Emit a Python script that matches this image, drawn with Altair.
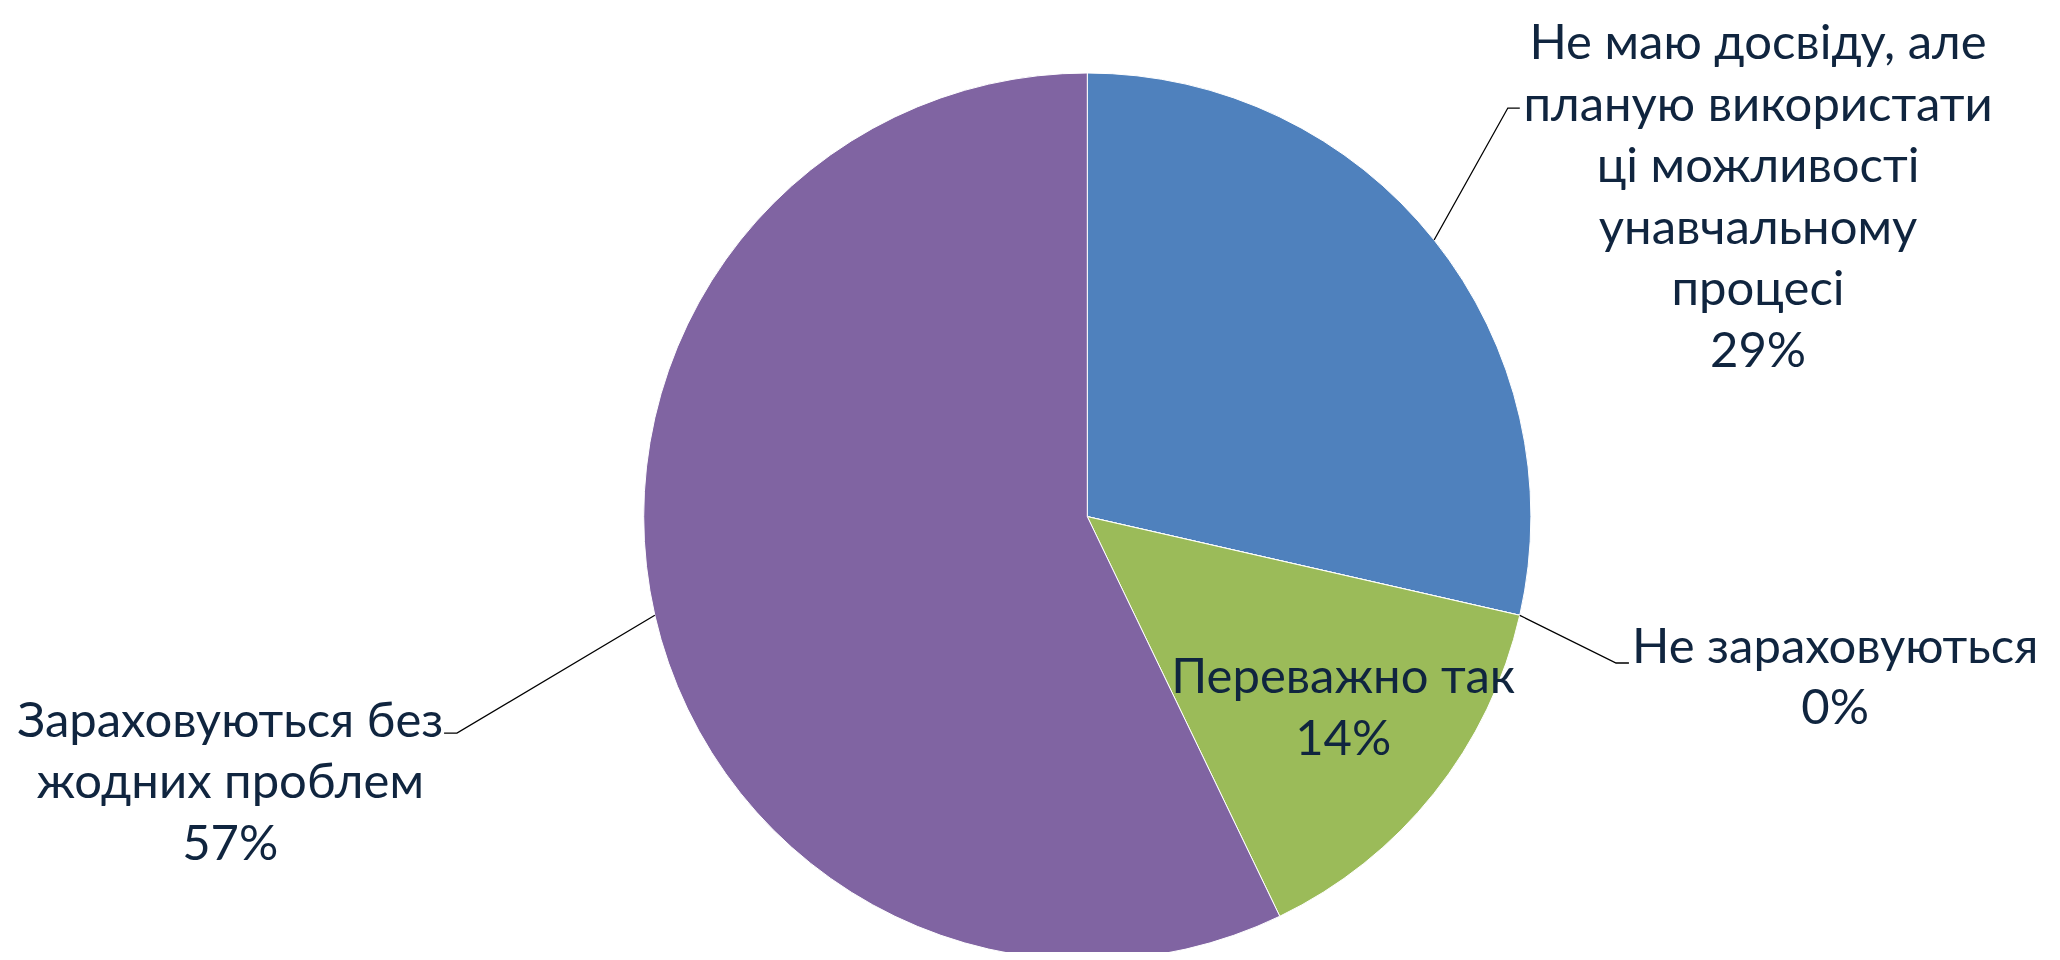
import math
import altair as alt
import pandas as pd

# ---------------- data ----------------
categories = [
    "Не маю досвіду, але планую використати ці можливості унавчальному процесі",
    "Не зараховуються",
    "Переважно так",
    "Зараховуються без жодних проблем",
]
# counts behind the shown 29% / 0% / 14% / 57%
values = [2, 0, 1, 4]
label_lines = [
    ["Не маю досвіду, але", "планую використати", "ці можливості", "унавчальному", "процесі"],
    ["Не зараховуються"],
    ["Переважно так"],
    ["Зараховуються без", "жодних проблем"],
]
colors = ["#4F81BD", "#C0504D", "#9BBB59", "#8064A2"]

# ---------------- layout (pie units: centre = 0,0 ; radius = 1) ----------------
PAD_TOP = 10
W, H = 2044, 944 - PAD_TOP
R_PX = 443.6
CX_PX, CY_PX = 1079.3, 508.6 - PAD_TOP     # pie centre inside the view
X0, X1 = -CX_PX / R_PX, (W - CX_PX) / R_PX
Y0, Y1 = -(H - CY_PX) / R_PX, CY_PX / R_PX

label_pos = {            # centre of the first line of each label
    categories[0]: (1.512, 1.065),
    categories[1]: (1.686, -0.296),
    categories[2]: (0.577, -0.364),
    categories[3]: (-1.932, -0.463),
}
leader_pts = {           # elbow and end of each leader line (None = no leader)
    categories[0]: [(0.948, 0.921), (0.975, 0.921)],
    categories[1]: [(1.192, -0.330), (1.221, -0.330)],
    categories[2]: None,
    categories[3]: [(-1.421, -0.488), (-1.450, -0.488)],
}
FONT = "Lato"
FS = 49
LH = 61.5                # line spacing in px
TXT = "#10253F"

# ---------------- tables ----------------
total = sum(values)
pie_df = pd.DataFrame({"category": categories, "value": values, "idx": range(len(categories))})

label_rows, leader_rows = [], []
cum = 0
for cat, v, lines in zip(categories, values, label_lines):
    mid = (cum + v / 2) / total * 2 * math.pi
    cum += v
    pct = f"{round(v / total * 100)}%"
    lx, ly = label_pos[cat]
    for i, line in enumerate(lines + [pct]):
        label_rows.append({"category": cat, "text": line, "lx": lx, "ly": ly - i * LH / R_PX})
    pts = leader_pts[cat]
    if pts:
        seq = [(math.sin(mid), math.cos(mid))] + pts
        for k, (px, py) in enumerate(seq):
            leader_rows.append({"category": cat, "k": k, "px": px, "py": py})

label_df = pd.DataFrame(label_rows)
leader_df = pd.DataFrame(leader_rows)

xs = alt.Scale(domain=[X0, X1], nice=False, zero=False)
ys = alt.Scale(domain=[Y0, Y1], nice=False, zero=False)

pie = alt.Chart(pie_df).mark_arc(radius=R_PX, stroke="white", strokeWidth=1).encode(
    x=alt.X(datum=0, type="quantitative", scale=xs, axis=None),
    y=alt.Y(datum=0, type="quantitative", scale=ys, axis=None),
    theta=alt.Theta("value:Q", stack=True),
    order=alt.Order("idx:Q"),
    color=alt.Color("category:N", scale=alt.Scale(domain=categories, range=colors), legend=None),
)

leaders = alt.Chart(leader_df).mark_line(color="#000000", strokeWidth=1.3).encode(
    x=alt.X("px:Q", scale=xs, axis=None),
    y=alt.Y("py:Q", scale=ys, axis=None),
    detail="category:N",
    order="k:Q",
)

labels = alt.Chart(label_df).mark_text(
    font=FONT, fontSize=FS, align="center", baseline="middle", color=TXT,
).encode(
    x=alt.X("lx:Q", scale=xs, axis=None),
    y=alt.Y("ly:Q", scale=ys, axis=None),
    text="text:N",
)

chart = alt.layer(pie, leaders, labels).properties(
    width=W, height=H,
    padding={"top": PAD_TOP, "left": 0, "right": 0, "bottom": 0},
    autosize=alt.AutoSizeParams(type="none"),
).configure_view(stroke=None)

chart.save("out.html", embed_options={"renderer": "svg", "actions": False})
